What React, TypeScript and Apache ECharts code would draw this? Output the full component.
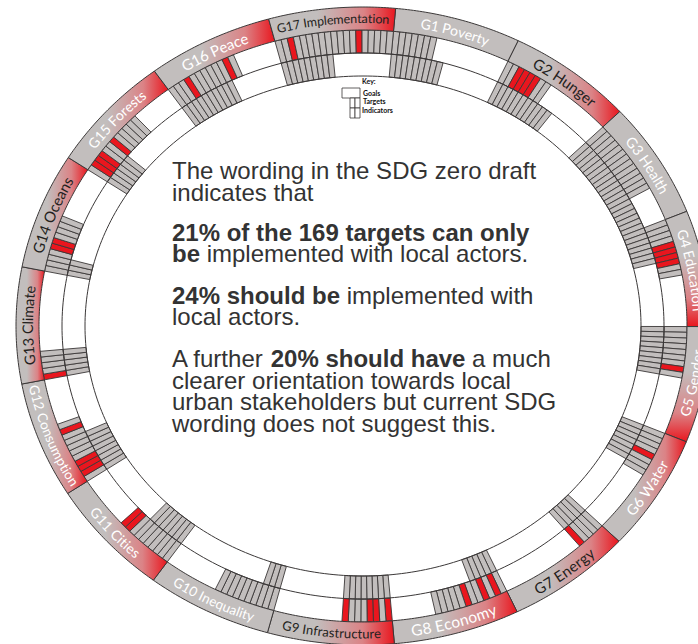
import React, { useEffect, useRef } from "react";
import * as echarts from "echarts";

// ---------- data ----------
const goalLabels = [
  "G1 Poverty", "G2 Hunger", "G3 Health", "G4 Education", "G5 Gender", "G6 Water",
  "G7 Energy", "G8 Economy", "G9 Infrastructure", "G10 Inequality", "G11 Cities",
  "G12 Consumption", "G13 Climate", "G14 Oceans", "G15 Forests", "G16 Peace", "G17 Implementation",
];
const targetCounts = [7, 8, 13, 10, 9, 8, 5, 12, 8, 10, 10, 11, 5, 10, 12, 12, 19];
const indicatorCounts = [9, 11, 19, 7, 9, 7, 5, 5, 8, 3, 7, 8, 5, 3, 6, 10, 9];
// targets that can only be implemented with local actors (index within goal)
const localOnlyTargets = [
  [], [2, 3, 4, 5], [], [4, 5, 6, 7], [7], [4], [4], [1, 3, 6], [0, 2, 3, 7], [],
  [8, 9], [1, 2, 3, 9], [0], [4, 5], [1, 2, 3, 6], [3, 10], [2, 13],
];
const labelDark = [false, true, false, false, false, false, true, false, true, false, false, false, true, true, false, false, true];
const labelFontSize = [14, 15, 14.5, 14, 14, 14.5, 15, 15.5, 13, 13.5, 14, 13.5, 14.5, 15, 14, 15, 12.5];
const verticalGradient = [false, false, false, true, true, false, false, false, false, false, false, false, false, false, false, false, false];

const textLines: [string, boolean][][] = [
  [["The wording in the SDG zero draft", false]],
  [["indicates that", false]],
  [["21% of the 169 targets can only", true]],
  [["be", true], [" implemented with local actors.", false]],
  [["24% should be", true], [" implemented with", false]],
  [["local actors.", false]],
  [["A further ", false], ["20% should have", true], [" a much", false]],
  [["clearer orientation towards local", false]],
  [["urban stakeholders but current SDG", false]],
  [["wording does not suggest this.", false]],
];
const keyLabels = ["Key:", "Goals", "Targets", "Indicators"];

// ---------- layout / style ----------
const W = 698, H = 644;
const CX = 363, CY = 326, RX = 347, RY = 319;
const BAND = 23;
const START = 5.4;
const SPAN = 360 / 17;
const SLOT = SPAN / 19;
const GRAY = "#c2bebd";
const RED = "#e9161e";
const STROKE = "#3b3838";
const TEXT_COLOR = "#333333";
const LINE_BASE = [179, 200.5, 241, 262, 303.5, 325, 367, 388.5, 410, 431.5];

let measureCtx: CanvasRenderingContext2D | null = null;
function textWidth(s: string, font: string) {
  if (!measureCtx) measureCtx = document.createElement("canvas").getContext("2d");
  measureCtx!.font = font;
  return measureCtx!.measureText(s).width;
}

function pt(phi: number, d: number) {
  const r = (phi * Math.PI) / 180;
  return [(RX - d) * Math.sin(r), (RY - d) * Math.cos(r)];
}

function bandPoints(api: any, a0: number, a1: number, d0: number, d1: number) {
  const n = Math.max(2, Math.ceil(Math.abs(a1 - a0) / 0.5));
  const pts: number[][] = [];
  for (let i = 0; i <= n; i++) pts.push(api.coord(pt(a0 + ((a1 - a0) * i) / n, d0)));
  for (let i = n; i >= 0; i--) pts.push(api.coord(pt(a0 + ((a1 - a0) * i) / n, d1)));
  return pts;
}

function buildOption() {
  const cellData: number[][] = [];
  goalLabels.forEach((_, g) => {
    for (let k = 0; k < targetCounts[g]; k++) cellData.push([g, 0, k, localOnlyTargets[g].includes(k) ? 1 : 0]);
    for (let k = 0; k < indicatorCounts[g]; k++) cellData.push([g, 1, k, 0]);
  });
  const goalData = goalLabels.map((_, g) => [g, 0]);
  const ringData = [[0, 0, BAND * 2], [0, 0, BAND * 3]];

  // text block graphic
  const graphics: any[] = [];
  const x0 = 172;
  textLines.forEach((segs, li) => {
    let x = x0;
    segs.forEach(([s, bold]) => {
      const font = `${bold ? "bold " : ""}24px "Liberation Sans", Arial, sans-serif`;
      const lead = (s.match(/^\s*/) as any)[0];
      const trimmed = s.trim();
      x += textWidth(lead, font);
      graphics.push({
        type: "text",
        x,
        y: LINE_BASE[li] - 8.4,
        style: {
          text: trimmed, font, fill: TEXT_COLOR, lineHeight: 20,
          align: "left", verticalAlign: "middle", textAlign: "left", textVerticalAlign: "middle",
        },
      });
      x += textWidth(trimmed, font);
      const trail = s.length - lead.length - trimmed.length;
      if (trail > 0) x += textWidth(" ".repeat(trail), font);
    });
  });

  // key
  const keyFont = 'bold 7px Lato, sans-serif';
  graphics.push({ type: "rect", shape: { x: 342, y: 88, width: 18, height: 10 }, style: { fill: "#fff", stroke: STROKE, lineWidth: 0.8 } });
  [[350, 98], [355, 98], [350, 108], [355, 108]].forEach(([x, y]) =>
    graphics.push({ type: "rect", shape: { x, y, width: 5, height: 10 }, style: { fill: "#fff", stroke: STROKE, lineWidth: 0.8 } })
  );
  const keyPos = [[362, 80.5], [363, 92.5], [363, 101], [362, 109.5]];
  keyLabels.forEach((t, i) =>
    graphics.push({
      type: "text", x: keyPos[i][0], y: keyPos[i][1],
      style: { text: t, font: keyFont, fill: "#111111", lineHeight: 8, align: "left", verticalAlign: "middle", textAlign: "left", textVerticalAlign: "middle" },
    })
  );

  return {
    animation: false,
    backgroundColor: "#ffffff",
    grid: { left: 0, right: 0, top: 0, bottom: 0 },
    xAxis: { type: "value", min: -CX, max: W - CX, show: false },
    yAxis: { type: "value", min: -(H - CY), max: CY, show: false },
    series: [
      {
        type: "custom", name: "cells", coordinateSystem: "cartesian2d", data: cellData, silent: true,
        renderItem: (params: any, api: any) => {
          const g = api.value(0), ring = api.value(1), k = api.value(2), red = api.value(3);
          const a0 = START + g * SPAN + k * SLOT;
          const d0 = BAND * (ring + 1), d1 = BAND * (ring + 2);
          return {
            type: "polygon",
            shape: { points: bandPoints(api, a0, a0 + SLOT, d0, d1) },
            style: { fill: red ? RED : GRAY, stroke: STROKE, lineWidth: 0.9 },
          };
        },
      },
      {
        type: "custom", name: "rings", coordinateSystem: "cartesian2d", data: ringData, silent: true,
        renderItem: (params: any, api: any) => {
          const d = api.value(2);
          const pts: number[][] = [];
          for (let a = 0; a <= 360; a += 1) pts.push(api.coord(pt(a, d)));
          return { type: "polyline", shape: { points: pts }, style: { fill: null, stroke: STROKE, lineWidth: 1 } };
        },
      },
      {
        type: "custom", name: "goals", coordinateSystem: "cartesian2d", data: goalData, silent: true,
        renderItem: (params: any, api: any) => {
          const g = api.value(0);
          const a0 = START + g * SPAN;
          const hasRed = localOnlyTargets[g].length > 0;
          const fill = hasRed
            ? new echarts.graphic.LinearGradient(0, 0, verticalGradient[g] ? 0 : 1, verticalGradient[g] ? 1 : 0, [
                { offset: 0, color: GRAY },
                { offset: 0.38, color: GRAY },
                { offset: 0.75, color: "#db8386" },
                { offset: 1, color: RED },
              ])
            : GRAY;
          return {
            type: "polygon",
            shape: { points: bandPoints(api, a0, a0 + SPAN, 0, BAND) },
            style: { fill, stroke: STROKE, lineWidth: 1 },
          };
        },
      },
      {
        type: "custom", name: "labels", coordinateSystem: "cartesian2d", data: goalData, silent: true,
        renderItem: (params: any, api: any) => {
          const g = api.value(0);
          const label = goalLabels[g];
          const font = `${labelFontSize[g]}px Lato, sans-serif`;
          const mid = START + (g + 0.5) * SPAN;
          const flip = mid > 90 && mid < 270;
          const dir = flip ? -1 : 1;
          const d = BAND / 2;
          const speed = (phi: number) => {
            const r = (phi * Math.PI) / 180;
            return Math.sqrt(((RX - d) * Math.cos(r)) ** 2 + ((RY - d) * Math.sin(r)) ** 2) * (Math.PI / 180);
          };
          const chars = label.split("");
          const widths = chars.map((c) => textWidth(c, font));
          const total = widths.reduce((a, b) => a + b, 0);
          let phi = mid - dir * (total / 2) / speed(mid);
          const children: any[] = [];
          chars.forEach((c, i) => {
            const w = widths[i];
            const pc = phi + dir * (w / 2) / speed(phi);
            phi += dir * w / speed(phi);
            if (c === " ") return;
            const p = api.coord(pt(pc, d));
            const p1 = api.coord(pt(pc + 0.05, d));
            const p0 = api.coord(pt(pc - 0.05, d));
            let ang = Math.atan2(p1[1] - p0[1], p1[0] - p0[0]);
            if (flip) ang += Math.PI;
            children.push({
              type: "text", x: p[0], y: p[1], rotation: -ang,
              style: {
                text: c, font, fill: labelDark[g] ? "#231f20" : "#ffffff",
                align: "center", verticalAlign: "middle", textAlign: "center", textVerticalAlign: "middle",
              },
            });
          });
          return { type: "group", children };
        },
      },
    ],
    graphic: { elements: graphics },
  };
}

export default function App() {
  const ref = useRef<HTMLDivElement>(null);
  useEffect(() => {
    const chart = echarts.init(ref.current!, null, { renderer: "svg" });
    chart.setOption(buildOption() as any);
    return () => chart.dispose();
  }, []);
  return (
    <div
      ref={ref}
      style={{ position: "absolute", left: 0, top: 0, width: W, height: H, background: "#fff" }}
    />
  );
}
